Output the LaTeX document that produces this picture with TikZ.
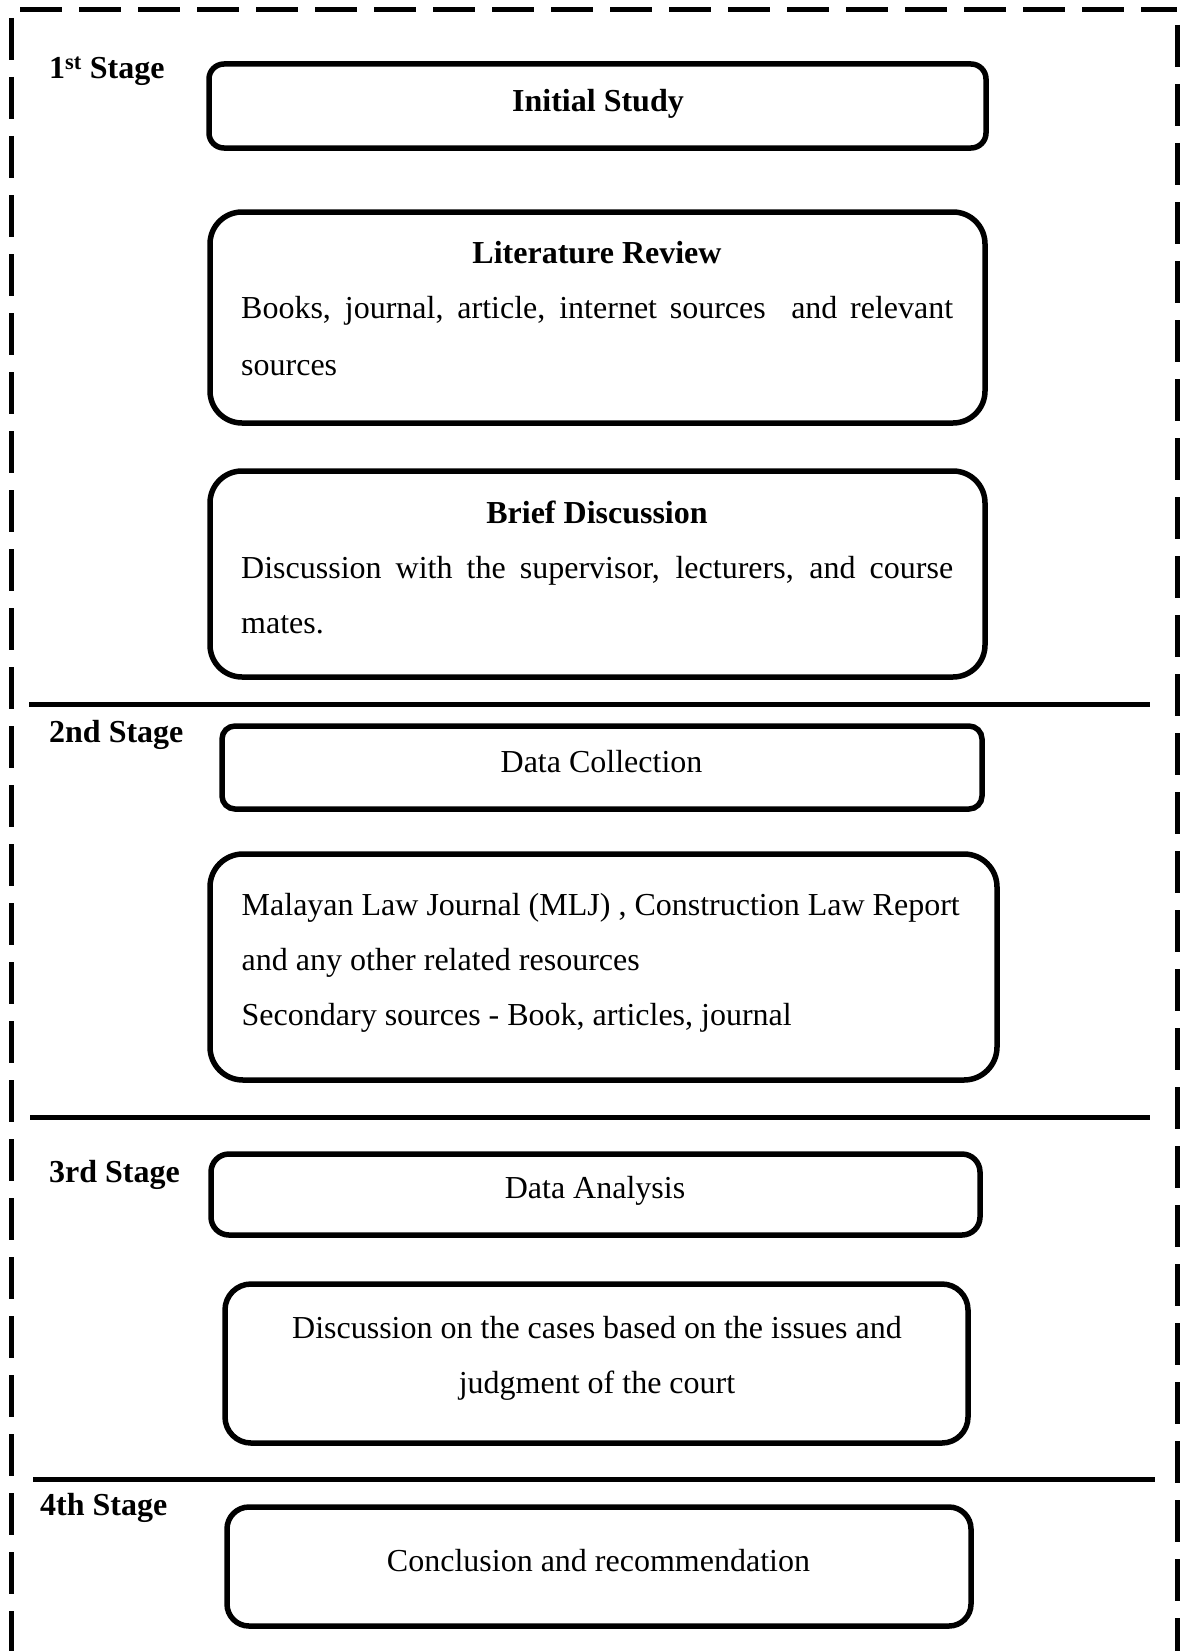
\documentclass[tikz,border=0pt]{standalone}
\usepackage{fontspec}
\setmainfont{Liberation Serif}
\begin{document}
\begin{tikzpicture}[x=1pt,y=-1pt,
  frame/.style={line width=5pt, dash pattern=on 42pt off 17pt},
  sepline/.style={line width=5pt},
  box/.style={draw, line width=5.5pt, inner sep=0pt},
  txt/.style={inner sep=0pt, anchor=base, font=\fontsize{32}{38}\selectfont},
  txtb/.style={txt, font=\fontsize{32}{38}\selectfont\bfseries},
  txtl/.style={txt, anchor=base west},
  stage/.style={txtb, anchor=base west}
]
\useasboundingbox (0,0) rectangle (1184,1651);

% dashed frame (open at the bottom)
\coordinate (ftl) at (20,10);
\coordinate (ftr) at (1177,10);
\coordinate (fl1) at (11.5,18);
\coordinate (fl2) at (11.5,1651);
\coordinate (fr1) at (1177,25);
\coordinate (fr2) at (1177,1651);
\draw[frame] (ftl) -- (ftr);
\draw[frame] (fl1) -- (fl2);
\draw[frame] (fr1) -- (fr2);

% stage separators
\coordinate (s1a) at (29,704);   \coordinate (s1b) at (1150,704);
\coordinate (s2a) at (30,1117);  \coordinate (s2b) at (1150,1117);
\coordinate (s3a) at (33,1479);  \coordinate (s3b) at (1155,1479);
\draw[sepline] (s1a) -- (s1b);
\draw[sepline] (s2a) -- (s2b);
\draw[sepline] (s3a) -- (s3b);

% stage labels
\node[stage] (st1) at (49,79) {1\textsuperscript{st} Stage};
\node[stage] (st2) at (49,742) {2nd Stage};
\node[stage] (st3) at (49,1182) {3rd Stage};
\node[stage] (st4) at (40,1515) {4th Stage};

% boxes
\node[box, minimum width=777pt, minimum height=84pt, rounded corners=15pt] (b1) at (597.5,106) {};
\node[box, minimum width=775pt, minimum height=211pt, rounded corners=32pt] (b2) at (597.5,317.5) {};
\node[box, minimum width=775pt, minimum height=206pt, rounded corners=32pt] (b3) at (597.5,574) {};
\node[box, minimum width=760pt, minimum height=83pt, rounded corners=13pt] (b4) at (602,767.5) {};
\node[box, minimum width=787pt, minimum height=226pt, rounded corners=33pt] (b5) at (603.5,967) {};
\node[box, minimum width=769pt, minimum height=81pt, rounded corners=18pt] (b6) at (595.5,1194.5) {};
\node[box, minimum width=743pt, minimum height=159pt, rounded corners=26pt] (b7) at (596.5,1363.5) {};
\node[box, minimum width=744pt, minimum height=119pt, rounded corners=22pt] (b8) at (599,1566.5) {};

% texts
\node[txtb] (t1) at (598,112) {Initial Study};
\node[txtb] (t2) at (597,263) {Literature Review};
\node[txtl] (t2a) at (241,318) {\makebox[712pt][s]{Books, journal, article, internet sources\ \ and relevant}};
\node[txtl] (t2b) at (241,375) {sources};
\node[txtb] (t3) at (597,523) {Brief Discussion};
\node[txtl] (t3a) at (241,578) {\makebox[712pt][s]{Discussion with the supervisor, lecturers, and course}};
\node[txtl] (t3b) at (241,633) {mates.};
\node[txt] (t4) at (601.5,772) {Data Collection};
\node[txtl] (t5a) at (241.5,915) {Malayan Law Journal (MLJ) , Construction Law Report};
\node[txtl] (t5b) at (241.5,970) {and any other related resources};
\node[txtl] (t5c) at (241.5,1025) {Secondary sources - Book, articles, journal};
\node[txt] (t6) at (595,1198) {Data Analysis};
\node[txt] (t7a) at (597,1338) {Discussion on the cases based on the issues and};
\node[txt] (t7b) at (597,1393) {judgment of the court};
\node[txt] (t8) at (598.5,1571) {Conclusion and recommendation};
\end{tikzpicture}
\end{document}
